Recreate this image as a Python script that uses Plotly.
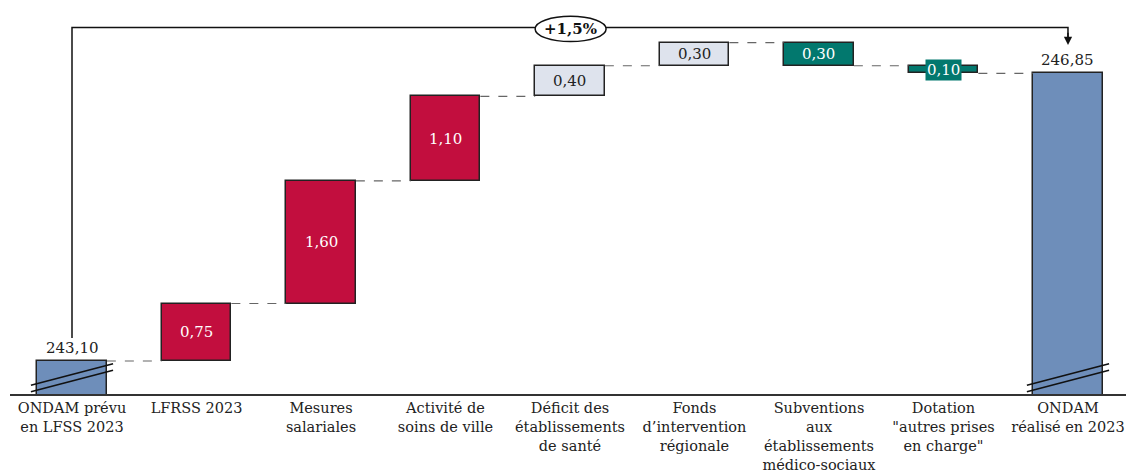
import plotly.graph_objects as go

# ONDAM 2023 bridge: forecast in LFSS 2023 -> realised amount (Md€)
categories = [
    "ONDAM prévu<br>en LFSS 2023",
    "LFRSS 2023",
    "Mesures<br>salariales",
    "Activité de<br>soins de ville",
    "Déficit des<br>établissements<br>de santé",
    "Fonds<br>d’intervention<br>régionale",
    "Subventions<br>aux<br>établissements<br>médico-sociaux",
    "Dotation<br>\"autres prises<br>en charge\"",
    "ONDAM<br>réalisé en 2023",
]
start_value = 243.10
changes = [0.75, 1.60, 1.10, 0.40, 0.30, -0.30, -0.10]
end_value = 246.85
bar_kinds = ["total", "rise", "rise", "rise", "light", "light", "fall", "fall", "total"]

COLORS = {"total": "#6E8EBA", "rise": "#C20E3E", "light": "#DEE3ED", "fall": "#02786E"}
TEXT_COLORS = {"total": "#222222", "rise": "#FFFFFF", "light": "#222222", "fall": "#FFFFFF"}
FONT = "DejaVu Serif"


def fr(v):
    return f"{v:.2f}".replace(".", ",")


# running totals
levels = [start_value]
for c in changes:
    levels.append(round(levels[-1] + c, 2))

bases, heights = [0.0], [start_value]
for i, c in enumerate(changes):
    lo = min(levels[i], levels[i + 1])
    bases.append(lo)
    heights.append(abs(c))
bases.append(0.0)
heights.append(end_value)

xs = list(range(len(categories)))
half_w = 0.28
y_bottom = 242.67
y_top = 247.807

fig = go.Figure()
fig.add_trace(go.Bar(
    x=xs, y=heights, base=bases, width=2 * half_w,
    marker=dict(color=[COLORS[k] for k in bar_kinds], line=dict(color="#222222", width=1.5)),
    hoverinfo="skip", showlegend=False,
))

# dashed connectors between consecutive bars
cx, cy = [], []
all_levels = levels + [end_value]
for i in range(len(categories) - 1):
    cx += [i + half_w, i + 1 - half_w, None]
    cy += [all_levels[i], all_levels[i], None]
fig.add_trace(go.Scatter(x=cx, y=cy, mode="lines", line=dict(color="#666666", width=1.2, dash="dash"),
                         hoverinfo="skip", showlegend=False))

annotations = []
# value labels
for i, k in enumerate(bar_kinds):
    if k == "total":
        val = heights[i]
        annotations.append(dict(x=i, y=val, text=fr(val), showarrow=False, yanchor="bottom", yshift=2,
                                font=dict(family=FONT, size=15, color="#222222")))
    else:
        mid = bases[i] + heights[i] / 2
        val = abs(changes[i - 1])
        small = heights[i] < 0.2
        annotations.append(dict(x=i, y=mid, text=fr(val), showarrow=False,
                                font=dict(family=FONT, size=15, color=TEXT_COLORS[k]),
                                bgcolor=COLORS[k] if small else None, borderpad=1))

# overall growth bracket
peak = max(levels)
bracket_y = peak + 0.20
pct = (end_value / start_value - 1) * 100
shapes = [dict(type="path", xref="x", yref="y",
               path=f"M 0,{start_value + 0.30} V {bracket_y} H 8 V {end_value + 0.40}",
               line=dict(color="#111111", width=1.5))]
annotations.append(dict(x=8, y=end_value + 0.37, ax=8, ay=bracket_y - 0.05, axref="x", ayref="y",
                        xref="x", yref="y", text="", showarrow=True, arrowhead=2, arrowsize=1.1,
                        arrowwidth=1.5, arrowcolor="#111111"))
shapes.append(dict(type="circle", xref="x", yref="y", x0=3.72, x1=4.29,
                   y0=bracket_y - 0.185, y1=bracket_y + 0.145,
                   fillcolor="white", line=dict(color="#111111", width=1.5)))
annotations.append(dict(x=4.005, y=bracket_y - 0.02, text="<b>" + f"+{pct:.1f}%".replace(".", ",") + "</b>",
                        showarrow=False, font=dict(family=FONT, size=15, color="#111111")))

# axis-break marks on the two total bars
for i in (0, 8):
    for off in (0.0, 0.085):
        shapes.append(dict(type="line", xref="x", yref="y",
                           x0=i - 0.33, x1=i + 0.33,
                           y0=y_bottom + 0.03 + off, y1=y_bottom + 0.31 + off,
                           line=dict(color="#111111", width=1.6)))

fig.update_layout(
    width=1126, height=473,
    margin=dict(l=10, r=0, t=0, b=79),
    paper_bgcolor="white", plot_bgcolor="white",
    shapes=shapes, annotations=annotations,
    bargap=0,
    xaxis=dict(range=[-0.498, 8.466], tickmode="array", tickvals=xs, ticktext=categories,
               showgrid=False, zeroline=False, showline=True, linecolor="#333333", linewidth=1.5,
               ticks="", ticklabelstandoff=0, automargin=False,
               tickfont=dict(family=FONT, size=14.5, color="#222222"), tickangle=0, fixedrange=True),
    yaxis=dict(range=[y_bottom, y_top], visible=False, fixedrange=True, automargin=False),
)

fig.write_html("out.html")
